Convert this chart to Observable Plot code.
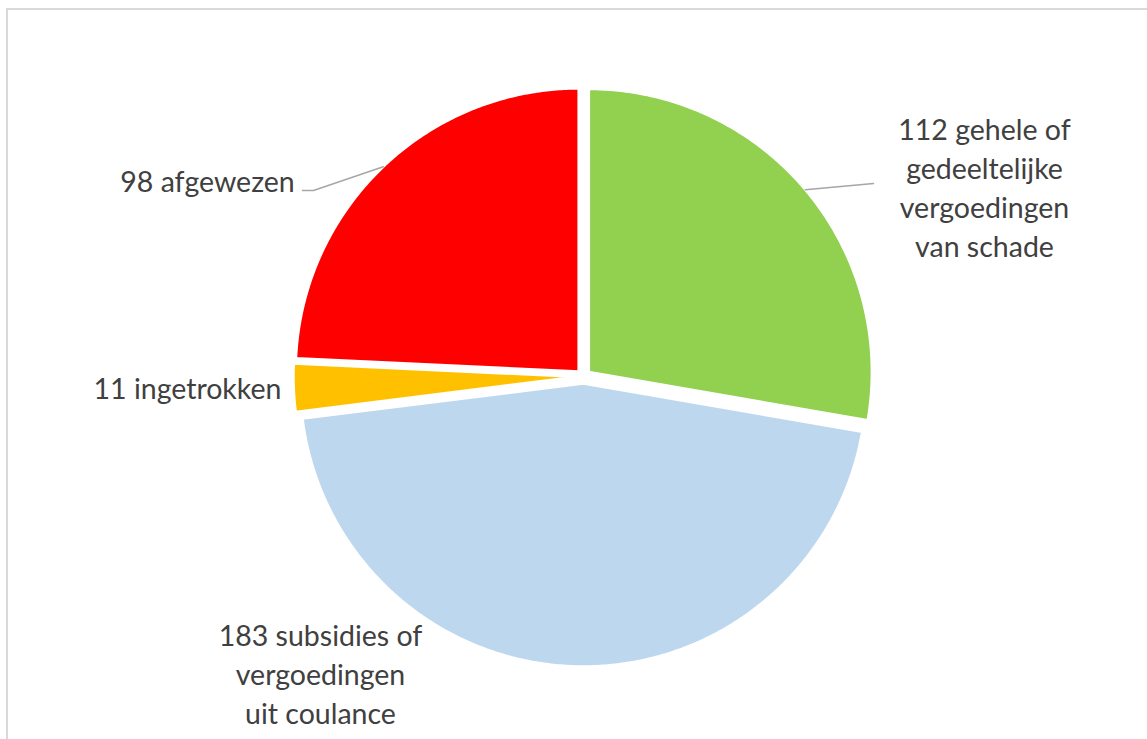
<!DOCTYPE html>
<html><head><meta charset="utf-8">
<script src="https://cdn.jsdelivr.net/npm/d3@7"></script>
<script src="https://cdn.jsdelivr.net/npm/@observablehq/plot@0.6"></script>
<style>
body{margin:0;background:#fff;}
#wrap{position:relative;width:1147px;height:739px;overflow:hidden;}
#wrap svg{position:absolute;left:0;top:0;}
#frame{position:absolute;left:6px;top:8px;width:1200px;height:800px;border:2px solid #d9d9d9;box-sizing:border-box;pointer-events:none;}
</style></head><body><div id="wrap"><div id="frame"></div></div>
<script>
// Data
const categories = ["gehele of gedeeltelijke vergoedingen van schade", "subsidies of vergoedingen uit coulance", "ingetrokken", "afgewezen"];
const values = [112, 183, 11, 98];
const labels = ["112 gehele of\ngedeeltelijke\nvergoedingen\nvan schade", "183 subsidies of\nvergoedingen\nuit coulance", "11 ingetrokken", "98 afgewezen"];

// Styles / layout
const colors = ["#92d050", "#bdd7ee", "#ffc000", "#ff0000"];
const W = 1147, H = 739;
const cx = 583, cy = 376, R = 283, explode = 7;
const labelPos = [[984, 185.5], [320, 672.5], [187, 386], [207, 179]];
const leaderEnds = [[[873, 183]], null, null, [[313, 190], [302, 190]]];
const font = "Lato, 'Open Sans', sans-serif";
const fontSize = 28.5;

const arcs = d3.pie().sort(null).value(d => d)(values);
const slices = arcs.map((a, i) => {
  const mid = (a.startAngle + a.endAngle) / 2;
  const ox = cx + explode * Math.sin(mid), oy = cy - explode * Math.cos(mid);
  const pts = [{x: ox, y: oy}];
  const n = Math.max(4, Math.ceil((a.endAngle - a.startAngle) / (Math.PI / 360)));
  for (let k = 0; k <= n; k++) {
    const t = a.startAngle + (a.endAngle - a.startAngle) * k / n;
    pts.push({x: ox + R * Math.sin(t), y: oy - R * Math.cos(t)});
  }
  const anchor = {x: ox + R * Math.sin(mid), y: oy - R * Math.cos(mid)};
  return {category: categories[i], value: values[i], color: colors[i], pts, anchor};
});

const marks = [];
slices.forEach(s => {
  marks.push(Plot.line(s.pts, {x: "x", y: "y", fill: s.color, stroke: "white", strokeWidth: 2.5, curve: "linear-closed"}));
});
slices.forEach((s, i) => {
  if (leaderEnds[i]) {
    const pts = [s.anchor, ...leaderEnds[i].map(([x, y]) => ({x, y}))];
    marks.push(Plot.line(pts, {x: "x", y: "y", stroke: "#a6a6a6", strokeWidth: 1.5}));
  }
});
const labelData = labels.map((t, i) => ({text: t, x: labelPos[i][0], y: labelPos[i][1]}));
marks.push(Plot.text(labelData, {x: "x", y: "y", text: "text", textAnchor: "middle", lineAnchor: "middle", lineHeight: 39 / fontSize, fontSize, fill: "#404040", fontFamily: font}));

const chart = Plot.plot({
  width: W, height: H,
  margin: 0,
  x: {domain: [0, W], range: [0, W], axis: null},
  y: {domain: [0, H], range: [0, H], axis: null},
  style: {background: "transparent", fontFamily: font},
  marks
});
document.getElementById("wrap").insertBefore(chart, document.getElementById("frame"));
</script>
</body></html>
